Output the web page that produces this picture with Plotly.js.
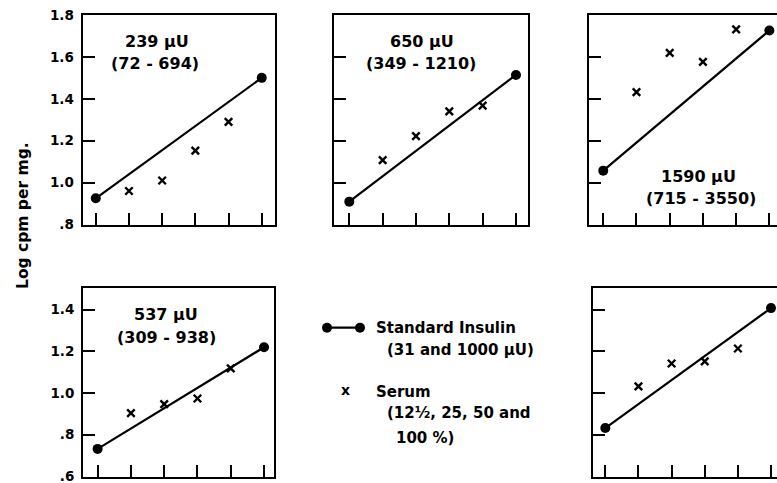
<!DOCTYPE html>
<html>
<head>
<meta charset="utf-8">
<script src="https://cdn.plot.ly/plotly-3.0.1.min.js"></script>
<style>html,body{margin:0;padding:0;background:#fff;}#chart{width:777px;height:483px;}</style>
</head>
<body>
<div id="chart"></div>
<script>
// ---- data ----
var standardDoses = [0, 5];          // positions of the two standard insulin doses
var serumDoses = [1, 2, 3, 4];       // positions of the four serum dilutions
var doseTicks = [0, 1, 2, 3, 4, 5];

var panelNames = ['239 μU', '650 μU', '1590 μU', '537 μU', 'panel6'];
var panelRanges = ['(72 - 694)', '(349 - 1210)', '(715 - 3550)', '(309 - 938)', ''];

var standard1 = [0.925, 1.50];
var standard2 = [0.909, 1.514];
var standard3 = [1.057, 1.726];
var standard4 = [0.732, 1.22];
var standard6 = [0.832, 1.408];

var serum1 = [0.96, 1.01, 1.153, 1.29];
var serum2 = [1.107, 1.222, 1.34, 1.367];
var serum3 = [1.432, 1.619, 1.576, 1.731];
var serum4 = [0.904, 0.947, 0.974, 1.119];
var serum6 = [1.032, 1.142, 1.152, 1.214];

var topTickVals = [0.8, 1.0, 1.2, 1.4, 1.6, 1.8];
var topTickText = ['.8', '1.0', '1.2', '1.4', '1.6', '1.8'];
var botTickVals = [0.6, 0.8, 1.0, 1.2, 1.4];
var botTickText = ['.6', '.8', '1.0', '1.2', '1.4'];

var yTitle = 'Log cpm per mg.';
var legendStd = ['Standard Insulin', '(31 and 1000 μU)'];
var legendSerum = ['Serum', '(12½, 25, 50 and', '100 %)'];

// ---- layout helpers ----
var W = 777, H = 483;
function px(x) { return x / W; }
function py(y) { return 1 - y / H; }
var FONT = 'DejaVu Sans';

var standards = [standard1, standard2, standard3, standard4, standard6];
var serums = [serum1, serum2, serum3, serum4, serum6];

// frame geometry (pixels) and x ranges
var frames = [
  {l: 82.5, r: 275, t: 15, b: 224.5, xr: [-0.40, 5.40], yr: [0.8, 1.8], mirrorY: true, labels: 'top'},
  {l: 334.3, r: 528.3, t: 15, b: 224.5, xr: [-0.45, 5.37], yr: [0.8, 1.8], mirrorY: true, labels: null},
  {l: 589.3, r: 777, t: 15, b: 224.5, xr: [-0.42, 5.23], yr: [0.8, 1.8], mirrorY: false, labels: null},
  {l: 83, r: 274, t: 288.3, b: 477, xr: [-0.44, 5.30], yr: [0.597, 1.503], mirrorY: true, labels: 'bot'},
  {l: 592.7, r: 777, t: 288.3, b: 477, xr: [-0.38, 5.18], yr: [0.597, 1.503], mirrorY: false, labels: null}
];

var data = [];
var layout = {
  width: W, height: H,
  margin: {l: 0, r: 0, t: 0, b: 0, pad: 0},
  paper_bgcolor: '#fff', plot_bgcolor: 'rgba(0,0,0,0)',
  showlegend: false,
  font: {family: FONT, color: '#000', weight: 'bold'},
  annotations: [], shapes: []
};

frames.forEach(function (f, i) {
  var n = i + 1;
  var xa = 'x' + (n === 1 ? '' : n), ya = 'y' + (n === 1 ? '' : n);
  data.push({
    x: standardDoses, y: standards[i], xaxis: xa, yaxis: ya,
    type: 'scatter', mode: 'lines+markers', cliponaxis: false,
    line: {color: '#000', width: 2.2},
    marker: {symbol: 'circle', size: 10, color: '#000'}
  });
  data.push({
    x: serumDoses, y: serums[i], xaxis: xa, yaxis: ya,
    type: 'scatter', mode: 'markers', cliponaxis: false,
    marker: {symbol: 'x-thin', size: 7.5, line: {color: '#000', width: 2.4}}
  });
  var isTop = f.yr[1] > 1.7;
  var tv = isTop ? topTickVals : botTickVals;
  var tt = isTop ? topTickText : botTickText;
  layout['xaxis' + (n === 1 ? '' : n)] = {
    domain: [px(f.l), px(f.r)], range: f.xr, anchor: ya,
    showgrid: false, zeroline: false, showline: true, linecolor: '#000', linewidth: 2,
    mirror: true, ticks: 'inside', ticklen: 12, tickwidth: 2, tickcolor: '#000',
    tickmode: 'array', tickvals: doseTicks, showticklabels: false, fixedrange: true
  };
  layout['yaxis' + (n === 1 ? '' : n)] = {
    domain: [py(f.b), py(f.t)], range: f.yr, anchor: xa,
    showgrid: false, zeroline: false, showline: true, linecolor: '#000', linewidth: 2,
    mirror: f.mirrorY, ticks: 'inside', ticklen: 12, tickwidth: 2, tickcolor: '#000',
    tickmode: 'array', tickvals: tv, ticktext: tt,
    showticklabels: !!f.labels, ticklabelstandoff: 4, ticklabeloverflow: 'allow',
    tickfont: {family: FONT, size: 13.5, color: '#000', weight: 'bold'}, fixedrange: true
  };
});

// panel labels
var labelPos = [
  [[157, 42], [155, 63]],
  [[422.5, 42], [421, 63]],
  [[698, 176], [701, 199]],
  [[166, 314], [166, 337]]
];
labelPos.forEach(function (p, i) {
  layout.annotations.push({text: panelNames[i], x: px(p[0][0]), y: py(p[0][1]), xref: 'paper', yref: 'paper',
    showarrow: false, xanchor: 'center', yanchor: 'middle', font: {family: FONT, size: 16, color: '#000', weight: 'bold'}});
  layout.annotations.push({text: panelRanges[i], x: px(p[1][0]), y: py(p[1][1]), xref: 'paper', yref: 'paper',
    showarrow: false, xanchor: 'center', yanchor: 'middle', font: {family: FONT, size: 16, color: '#000', weight: 'bold'}});
});

// y-axis title
layout.annotations.push({text: yTitle, x: px(23), y: py(216), xref: 'paper', yref: 'paper', textangle: -90,
  showarrow: false, xanchor: 'center', yanchor: 'middle', font: {family: FONT, size: 15.5, color: '#000', weight: 'bold'}});

// legend
var lf = {family: FONT, size: 15, color: '#000', weight: 'bold'};
function leftText(t, x, y) {
  layout.annotations.push({text: t, x: px(x), y: py(y), xref: 'paper', yref: 'paper', showarrow: false,
    xanchor: 'left', yanchor: 'middle', font: lf});
}
leftText(legendStd[0], 374, 327.7);
leftText(legendStd[1], 385, 350);
leftText(legendSerum[0], 374, 391.7);
leftText(legendSerum[1], 385, 413.3);
leftText(legendSerum[2], 394, 438.3);
layout.annotations.push({text: 'x', x: px(345), y: py(390), xref: 'paper', yref: 'paper', showarrow: false,
  xanchor: 'center', yanchor: 'middle', font: {family: FONT, size: 14, color: '#000', weight: 'bold'}});
layout.shapes.push({type: 'line', xref: 'paper', yref: 'paper', x0: px(327), x1: px(360), y0: py(327.7), y1: py(327.7),
  line: {color: '#000', width: 2.2}});
[327, 360].forEach(function (cx) {
  layout.shapes.push({type: 'circle', xref: 'paper', yref: 'paper', xsizemode: 'pixel', ysizemode: 'pixel',
    xanchor: px(cx), yanchor: py(327.7), x0: -5, x1: 5, y0: -5, y1: 5,
    fillcolor: '#000', line: {color: '#000', width: 0}});
});

Plotly.newPlot('chart', data, layout, {staticPlot: true, displayModeBar: false});
</script>
</body>
</html>
